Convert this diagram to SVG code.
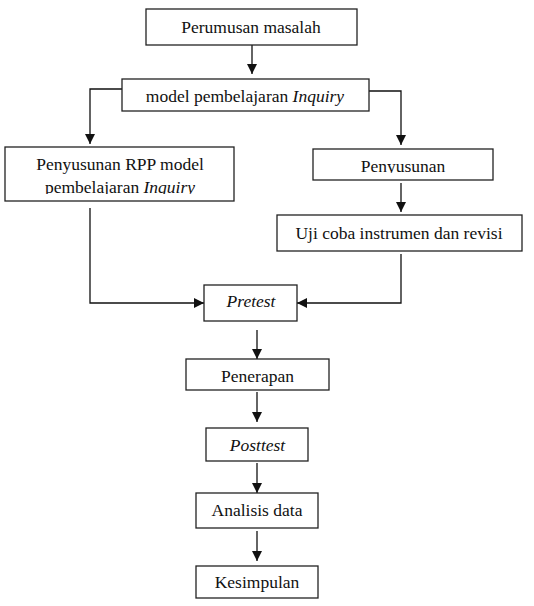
<svg xmlns="http://www.w3.org/2000/svg" width="534" height="606" viewBox="0 0 534 606">
<style>
.box{fill:#fff;stroke:#222;stroke-width:1.3}
.t{font-size:17.5px;fill:#111;text-anchor:middle}
.i{font-style:italic}
.c{fill:none;stroke:#111;stroke-width:1.3}
</style>
<defs>
<marker id="ah" viewBox="0 0 10 10" refX="10" refY="5" markerWidth="10" markerHeight="10" markerUnits="userSpaceOnUse" orient="auto">
<path d="M0,0 L10,5 L0,10 Z" fill="#111"/>
</marker>
<clipPath id="clip3"><rect x="5" y="147" width="229" height="47"/></clipPath>
<clipPath id="clip4"><rect x="313" y="149" width="180" height="24"/></clipPath>
</defs>
<rect width="534" height="606" fill="#fff"/>
<g id="connectors">
<path class="c" d="M252,45 V74" marker-end="url(#ah)"/>
<path class="c" d="M122,89 H90 V144" marker-end="url(#ah)"/>
<path class="c" d="M369,91 H401 V145" marker-end="url(#ah)"/>
<path class="c" d="M401,183 V212" marker-end="url(#ah)"/>
<path class="c" d="M90,208 V303 H204" marker-end="url(#ah)"/>
<path class="c" d="M401,254 V303 H297" marker-end="url(#ah)"/>
<path class="c" d="M257,330 V359" marker-end="url(#ah)"/>
<path class="c" d="M257,392 V422" marker-end="url(#ah)"/>
<path class="c" d="M257,463 V493" marker-end="url(#ah)"/>
<path class="c" d="M257,531 V561" marker-end="url(#ah)"/>
</g>
<g font-family="Liberation Serif, serif">
<g id="n1"><rect class="box" x="146" y="9" width="211" height="36"/><text class="t" x="251" y="33">Perumusan masalah</text></g>
<g id="n2"><rect class="box" x="122" y="79" width="247" height="32"/><text class="t" x="245" y="102">model pembelajaran <tspan class="i">Inquiry</tspan></text></g>
<g id="n3"><rect class="box" x="5" y="147" width="229" height="54"/><g clip-path="url(#clip3)"><text class="t" x="120" y="170">Penyusunan RPP model</text><text class="t" x="120" y="193">pembelajaran <tspan class="i">Inquiry</tspan></text></g></g>
<g id="n4"><rect class="box" x="313" y="149" width="180" height="31"/><g clip-path="url(#clip4)"><text class="t" x="403" y="172">Penyusunan</text></g></g>
<g id="n5"><rect class="box" x="277" y="215" width="245" height="36"/><text class="t" x="399" y="239">Uji coba instrumen dan revisi</text></g>
<g id="n6"><rect class="box" x="204" y="285" width="93" height="36"/><text class="t i" x="251" y="307">Pretest</text></g>
<g id="n7"><rect class="box" x="186" y="359" width="143" height="31"/><text class="t" x="257.5" y="382">Penerapan</text></g>
<g id="n8"><rect class="box" x="206" y="428" width="102" height="33"/><text class="t i" x="257.5" y="451">Posttest</text></g>
<g id="n9"><rect class="box" x="196" y="493" width="122" height="35"/><text class="t" x="257" y="516">Analisis data</text></g>
<g id="n10"><rect class="box" x="196" y="566" width="122" height="32"/><text class="t" x="257" y="588">Kesimpulan</text></g>
</g>
</svg>
